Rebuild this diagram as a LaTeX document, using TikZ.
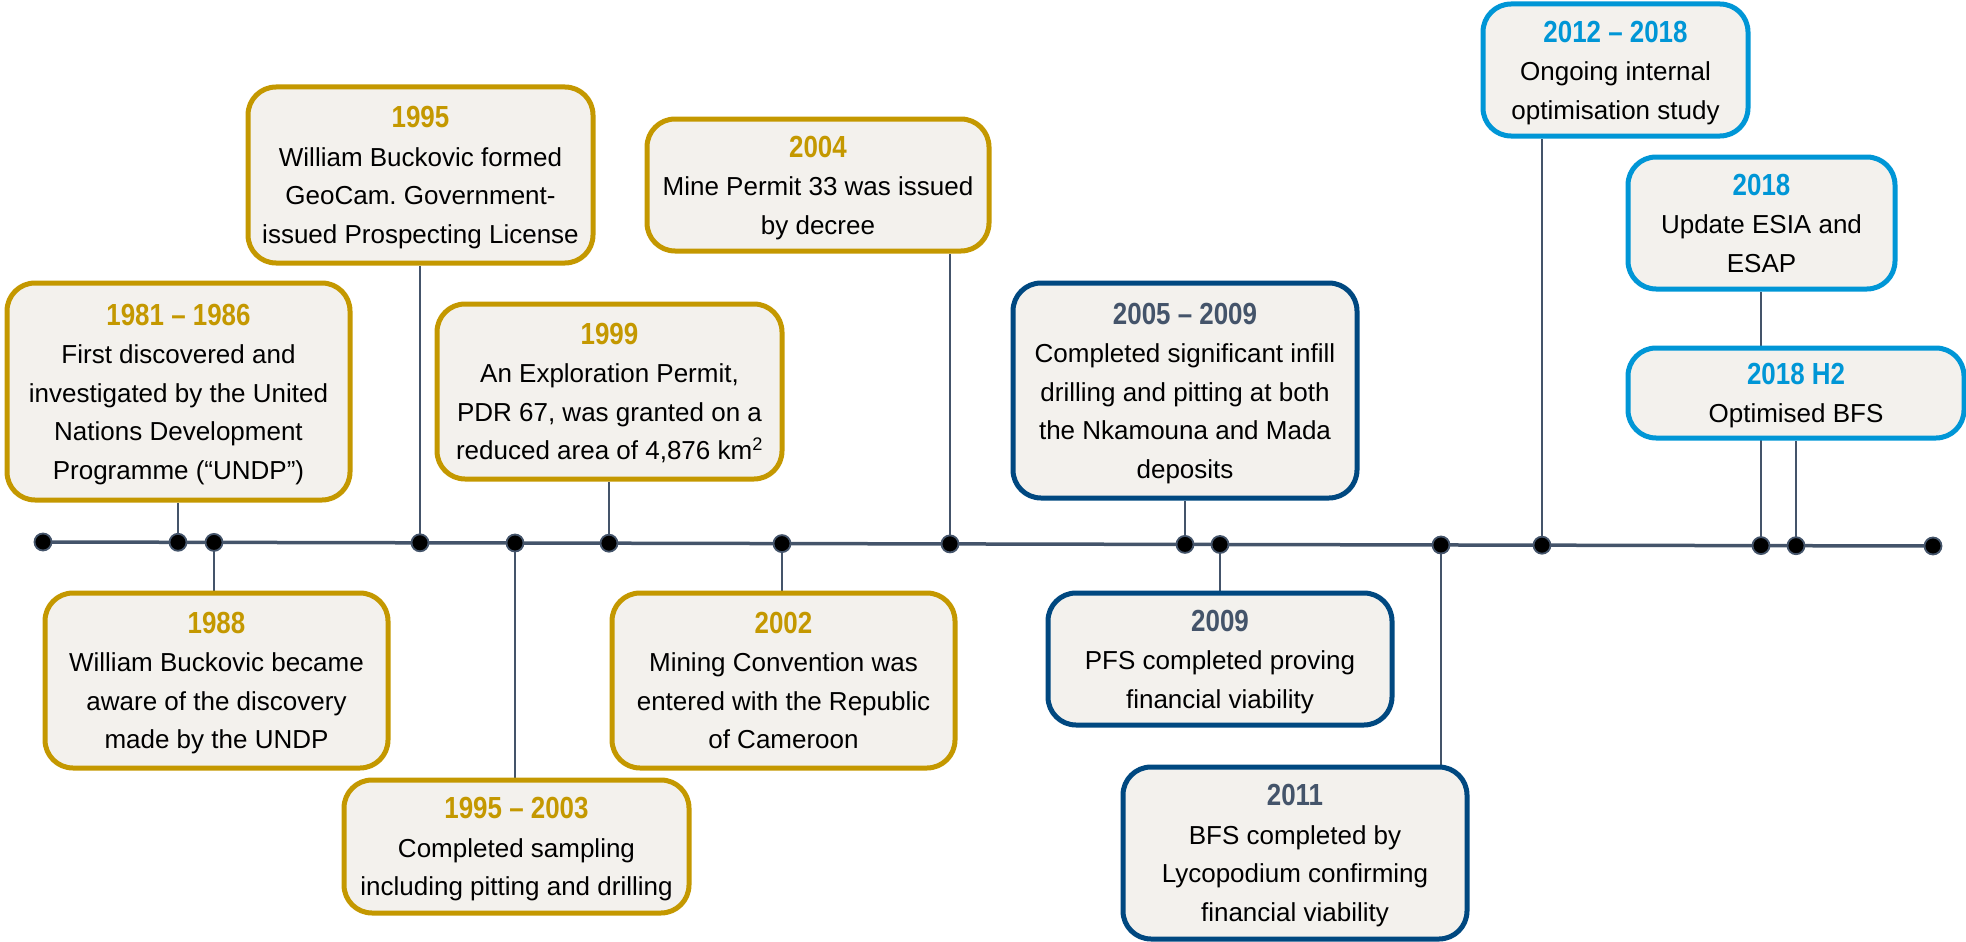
\documentclass[tikz,border=0pt]{standalone}
\usepackage{fontspec}
\setmainfont{Liberation Sans}
\newfontface\ttlfont[FakeStretch=0.85]{Liberation Sans Bold}
\definecolor{gold}{RGB}{196,152,0}
\definecolor{navy}{RGB}{0,72,128}
\definecolor{slate}{RGB}{68,84,106}
\definecolor{skyblue}{RGB}{0,150,214}
\definecolor{boxfill}{RGB}{243,241,237}
\pgfdeclarelayer{bg}
\pgfsetlayers{bg,main}
\frenchspacing
\newcommand\ttl[2]{{\color{#1}\ttlfont\fontsize{30.5}{38.5}\selectfont\rule{0pt}{27pt}#2}}
\newcommand\lastl{\rule[-6pt]{0pt}{6pt}}
\tikzset{
  box/.style={draw, line width=5pt, fill=boxfill, rounded corners=28pt, inner sep=0pt,
    align=center, font=\fontsize{26}{38.5}\selectfont\frenchspacing},
  goldbox/.style={box, draw=gold},
  navybox/.style={box, draw=navy},
  bluebox/.style={box, draw=skyblue},
  dot/.style={circle, fill=black, draw=slate, line width=1.8pt, minimum size=17pt, inner sep=0pt},
  conn/.style={draw=slate, line width=1.3pt},
  tline/.style={draw=slate, line width=3.5pt},
}
\begin{document}
\begin{tikzpicture}[x=1pt,y=-1pt]
\useasboundingbox (0,0) rectangle (1966,942);
% dots
\node[dot] (d1) at (43,542.0) {};
\node[dot] (d2) at (178,542.3) {};
\node[dot] (d3) at (214,542.4) {};
\node[dot] (d4) at (420,542.8) {};
\node[dot] (d5) at (515,543.0) {};
\node[dot] (d6) at (609,543.2) {};
\node[dot] (d7) at (782,543.6) {};
\node[dot] (d8) at (950,543.9) {};
\node[dot] (d9) at (1185,544.4) {};
\node[dot] (d10) at (1220,544.5) {};
\node[dot] (d11) at (1441,545.0) {};
\node[dot] (d12) at (1542,545.2) {};
\node[dot] (d13) at (1761,545.6) {};
\node[dot] (d14) at (1796,545.7) {};
\node[dot] (d15) at (1933,546.0) {};
% boxes
\node[goldbox, minimum width=343pt, minimum height=217pt] (b1981) at (178.5,391.5)
  {\ttl{gold}{1981 – 1986}\\First discovered and\\investigated by the United\\Nations Development\\Programme (“UNDP”)\lastl};
\node[goldbox, minimum width=345pt, minimum height=176pt] (b1995) at (420.5,175)
  {\ttl{gold}{1995}\\William Buckovic formed\\GeoCam. Government-\\issued Prospecting License\lastl};
\node[goldbox, minimum width=345pt, minimum height=175pt] (b1999) at (609.5,391.5)
  {\ttl{gold}{1999}\\An Exploration Permit,\\PDR 67, was granted on a\\reduced area of 4,876 km\textsuperscript{2}\lastl};
\node[goldbox, minimum width=342pt, minimum height=132pt] (b2004) at (818,185)
  {\ttl{gold}{2004}\\Mine Permit 33 was issued\\by decree\lastl};
\node[goldbox, minimum width=343pt, minimum height=175pt] (b1988) at (216.5,680.5)
  {\ttl{gold}{1988}\\William Buckovic became\\aware of the discovery\\made by the UNDP\lastl};
\node[goldbox, minimum width=345pt, minimum height=133pt] (b1995b) at (516.5,846.5)
  {\ttl{gold}{1995 – 2003}\\Completed sampling\\including pitting and drilling\lastl};
\node[goldbox, minimum width=343pt, minimum height=175pt] (b2002) at (783.5,680.5)
  {\ttl{gold}{2002}\\Mining Convention was\\entered with the Republic\\of Cameroon\lastl};
\node[navybox, minimum width=344pt, minimum height=215pt] (b2005) at (1185,390.5)
  {\ttl{slate}{2005 – 2009}\\Completed significant infill\\drilling and pitting at both\\the Nkamouna and Mada\\deposits\lastl};
\node[navybox, minimum width=344pt, minimum height=132pt] (b2009) at (1220,659)
  {\ttl{slate}{2009}\\PFS completed proving\\financial viability\lastl};
\node[navybox, minimum width=344pt, minimum height=172pt] (b2011) at (1295,853)
  {\ttl{slate}{2011}\\BFS completed by\\Lycopodium confirming\\financial viability\lastl};
\node[bluebox, minimum width=265pt, minimum height=132pt] (b2012) at (1615.5,70)
  {\ttl{skyblue}{2012 – 2018}\\Ongoing internal\\optimisation study\lastl};
\node[bluebox, minimum width=267pt, minimum height=132pt] (b2018) at (1761.5,223)
  {\ttl{skyblue}{2018}\\Update ESIA and\\ESAP\lastl};
\node[bluebox, minimum width=336pt, minimum height=90pt] (bH2) at (1796,393)
  {\ttl{skyblue}{2018 H2}\\Optimised BFS\lastl};
% lines behind
\begin{pgfonlayer}{bg}
\draw[tline] (d1.center) -- (d15.center);
\draw[conn] (d2.center) -- (d2.center |- b1981.south);
\draw[conn] (d3.center) -- (d3.center |- b1988.north);
\draw[conn] (d4.center) -- (d4.center |- b1995.south);
\draw[conn] (d5.center) -- (d5.center |- b1995b.north);
\draw[conn] (d6.center) -- (d6.center |- b1999.south);
\draw[conn] (d7.center) -- (d7.center |- b2002.north);
\draw[conn] (d8.center) -- (d8.center |- b2004.south);
\draw[conn] (d9.center) -- (d9.center |- b2005.south);
\draw[conn] (d10.center) -- (d10.center |- b2009.north);
\draw[conn] (d11.center) -- (d11.center |- b2011.north);
\draw[conn] (d12.center) -- (d12.center |- b2012.south);
\draw[conn] (d13.center) -- (d13.center |- b2018.south);
\draw[conn] (d14.center) -- (d14.center |- bH2.south);
\end{pgfonlayer}
\end{tikzpicture}
\end{document}
